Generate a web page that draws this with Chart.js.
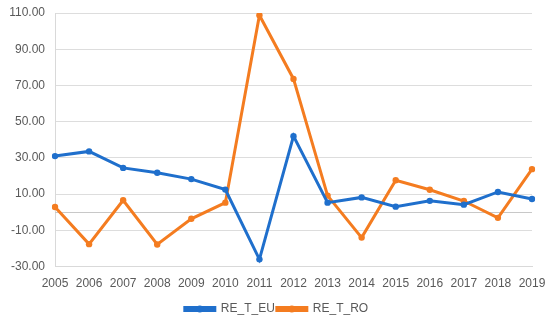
<!DOCTYPE html>
<html>
<head>
<meta charset="utf-8">
<script src="https://cdn.jsdelivr.net/npm/chart.js@4/dist/chart.umd.min.js"></script>
<style>
  html, body { margin: 0; padding: 0; background: #fff; }
  #wrap { width: 550px; height: 325px; }
</style>
</head>
<body>
<div id="wrap"><canvas id="myChart" width="550" height="325"></canvas></div>
<script>
// years on the x axis //
const years = ["2005", "2006", "2007", "2008", "2009", "2010", "2011", "2012", "2013", "2014", "2015", "2016", "2017", "2018", "2019"];
// series //
const reTEu = [31.0, 33.6, 24.5, 21.8, 18.3, 12.5, -26.0, 42.0, 5.3, 8.2, 3.1, 6.3, 4.2, 11.2, 7.3];
const reTRo = [2.9, -17.6, 6.6, -17.8, -3.6, 5.3, 108.8, 73.6, 9.2, -14.0, 17.7, 12.4, 6.2, -3.1, 23.8];
// y axis ticks //
const yMin = -30;
const yMax = 110;
const yStep = 20;

const BLUE = "#1f6fcc";
const ORANGE = "#f47c20";
const TEXT = "#595959";

// axis line at zero, the way the spreadsheet draws it //
const zeroLine = {
  id: "zeroLine",
  beforeDatasetsDraw(chart) {
    const y = chart.scales.y.getPixelForValue(0);
    const a = chart.chartArea;
    const ctx = chart.ctx;
    ctx.save();
    ctx.strokeStyle = "#c8c8c8";
    ctx.lineWidth = 1;
    ctx.beginPath();
    ctx.moveTo(a.left, Math.round(y) + 0.5);
    ctx.lineTo(a.right, Math.round(y) + 0.5);
    ctx.stroke();
    ctx.restore();
  }
};

// dot in the middle of each legend line //
const legendDots = {
  id: "legendDots",
  afterDraw(chart) {
    const lg = chart.legend;
    if (!lg || !lg.legendHitBoxes) return;
    const ctx = chart.ctx;
    const bw = lg.options.labels.boxWidth;
    lg.legendHitBoxes.forEach((box, i) => {
      ctx.save();
      ctx.fillStyle = chart.data.datasets[i].borderColor;
      ctx.beginPath();
      ctx.arc(box.left + bw / 2, box.top + box.height / 2, 3.5, 0, Math.PI * 2);
      ctx.fill();
      ctx.restore();
    });
  }
};

new Chart("myChart", {
  type: "line",
  data: {
    labels: years,
    datasets: [
      {
        label: "RE_T_EU",
        data: reTEu,
        borderColor: BLUE,
        backgroundColor: BLUE,
        borderWidth: 3,
        pointRadius: 3.2,
        pointBorderWidth: 0,
        pointHoverRadius: 3.2,
        tension: 0,
        fill: false
      },
      {
        label: "RE_T_RO",
        data: reTRo,
        borderColor: ORANGE,
        backgroundColor: ORANGE,
        borderWidth: 3,
        pointRadius: 3.2,
        pointBorderWidth: 0,
        pointHoverRadius: 3.2,
        tension: 0,
        fill: false
      }
    ]
  },
  options: {
    responsive: false,
    animation: false,
    layout: { padding: { top: 13, right: 0, left: 3, bottom: 0 } },
    scales: {
      x: {
        offset: false,
        grid: { display: false, drawTicks: false },
        border: { display: true, color: "#d9d9d9" },
        ticks: {
          color: TEXT,
          font: { family: "Liberation Sans", size: 12 },
          padding: 10,
          maxRotation: 0,
          autoSkip: false
        },
        afterFit(scale) { scale.paddingLeft = 0; scale.paddingRight = 18; }
      },
      y: {
        min: yMin,
        max: yMax,
        grid: { color: "#dddddd", drawTicks: false },
        border: { display: true, color: "#d9d9d9" },
        ticks: {
          stepSize: yStep,
          color: TEXT,
          font: { family: "Liberation Sans", size: 12 },
          padding: 10,
          callback: v => v.toFixed(2)
        },
        afterFit(scale) { scale.width = 52; scale.paddingTop = 0; scale.paddingBottom = 0; }
      }
    },
    plugins: {
      legend: {
        position: "bottom",
        labels: {
          boxWidth: 30,
          boxHeight: 3,
          color: TEXT,
          padding: 2,
          font: { family: "Liberation Sans", size: 12 }
        }
      },
      tooltip: { enabled: false }
    }
  },
  plugins: [zeroLine, legendDots]
});
</script>
</body>
</html>
